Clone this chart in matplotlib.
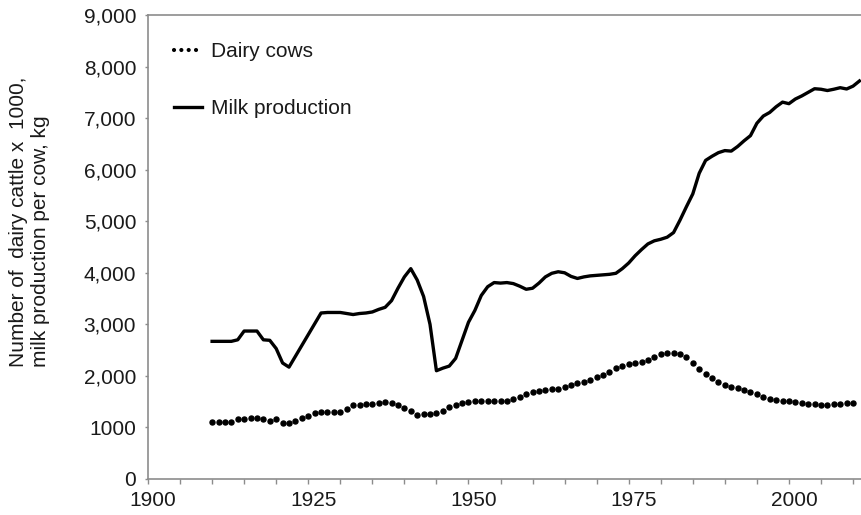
import numpy as np
import matplotlib
matplotlib.use('Agg')
import matplotlib.pyplot as plt
from matplotlib.lines import Line2D
from matplotlib.transforms import ScaledTranslation

plt.rcParams['font.family'] = ['Liberation Sans', 'DejaVu Sans']

# yearly values
cow_years = np.arange(1910, 2011)
dairy_cows = [1100, 1100, 1100, 1100, 1157, 1164, 1177, 1190, 1157, 1131,
              1157, 1093, 1080, 1131, 1177, 1228, 1286, 1295, 1293, 1293,
              1293, 1358, 1435, 1442, 1448, 1461, 1480, 1500, 1468, 1435,
              1383, 1319, 1241, 1254, 1261, 1287, 1319, 1390, 1435, 1468,
              1500, 1519, 1519, 1519, 1519, 1519, 1519, 1545, 1597, 1649,
              1681, 1713, 1726, 1739, 1739, 1778, 1823, 1855, 1875, 1920,
              1972, 2017, 2069, 2146, 2198, 2224, 2243, 2276, 2308, 2360,
              2418, 2437, 2437, 2424, 2360, 2256, 2133, 2030, 1952, 1875,
              1830, 1791, 1758, 1726, 1694, 1649, 1597, 1552, 1532, 1519,
              1513, 1500, 1480, 1461, 1448, 1442, 1442, 1448, 1461, 1468,
              1468]

milk_years = np.arange(1910, 2012)
milk_per_cow = [2670, 2670, 2670, 2670, 2700, 2870, 2870, 2870, 2700, 2690,
                2530, 2250, 2170, 2380, 2590, 2800, 3010, 3220, 3230, 3230,
                3230, 3210, 3190, 3210, 3220, 3240, 3290, 3330, 3460, 3700,
                3920, 4080, 3860, 3540, 3000, 2100, 2150, 2190, 2340, 2690,
                3040, 3270, 3560, 3730, 3810, 3800, 3810, 3790, 3740, 3680,
                3700, 3800, 3920, 3990, 4020, 4000, 3930, 3890, 3920, 3940,
                3950, 3960, 3970, 3990, 4080, 4190, 4330, 4450, 4560, 4620,
                4650, 4690, 4780, 5020, 5280, 5530, 5930, 6180, 6260, 6330,
                6370, 6360, 6450, 6560, 6660, 6900, 7040, 7110, 7220, 7310,
                7280, 7370, 7430, 7500, 7570, 7560, 7535, 7560, 7590, 7565,
                7620, 7720]

y_ticks = [0, 1000, 2000, 3000, 4000, 5000, 6000, 7000, 8000, 9000]
y_tick_labels = ['0', '1000', '2,000', '3,000', '4,000', '5,000',
                 '6,000', '7,000', '8,000', '9,000']
x_ticks = [1900, 1925, 1950, 1975, 2000]

fig = plt.figure(figsize=(8.62, 5.15), dpi=100)
ax = fig.add_axes([148/862, 36/515, 714/862, 464/515])

ax.plot(cow_years, dairy_cows, linestyle='none', marker='o',
        markersize=3.6, color='black')
ax.plot(milk_years, milk_per_cow, color='black', linewidth=2.4)

ax.set_xlim(1900, 2011.4)
ax.set_ylim(0, 9000)
ax.set_xticks(x_ticks)
ax.set_xticks(np.arange(1905, 2015, 5), minor=True)
ax.set_yticks(y_ticks)
ax.set_yticklabels(y_tick_labels)

for s in ['left', 'bottom', 'top']:
    ax.spines[s].set_color('#8c8c8c')
    ax.spines[s].set_linewidth(1.2)
ax.spines['right'].set_visible(False)

ax.tick_params(axis='both', which='both', color='#8c8c8c', width=1,
               labelsize=15, labelcolor='#1a1a1a')
ax.tick_params(axis='x', which='both', length=3.5, pad=5)
ax.tick_params(axis='y', length=2.5, pad=6)

# excel puts the year labels a bit to the right of the ticks
for lbl in ax.get_xticklabels():
    lbl.set_transform(lbl.get_transform() + ScaledTranslation(5/100, 0, fig.dpi_scale_trans))

fig.text(30/862, (515-367)/515, 'Number of  dairy cattle x  1000,\nmilk production per cow, kg',
         rotation=90, ha='center', va='bottom', multialignment='left',
         fontsize=15, color='#1a1a1a')

# legend
h_cows = Line2D([], [], color='black', linewidth=3, linestyle=(0, (0.01, 1.75)),
                dash_capstyle='round')
h_milk = Line2D([], [], color='black', linewidth=2.4)
ax.legend([h_cows, h_milk], ['Dairy cows', 'Milk production'],
          loc='upper left', bbox_to_anchor=(0.036, 0.942), frameon=False,
          fontsize=15, borderpad=0, borderaxespad=0, handlelength=1.35,
          handletextpad=0.45, labelspacing=1.85, labelcolor='#1a1a1a')

plt.savefig('out.png', dpi=100)
